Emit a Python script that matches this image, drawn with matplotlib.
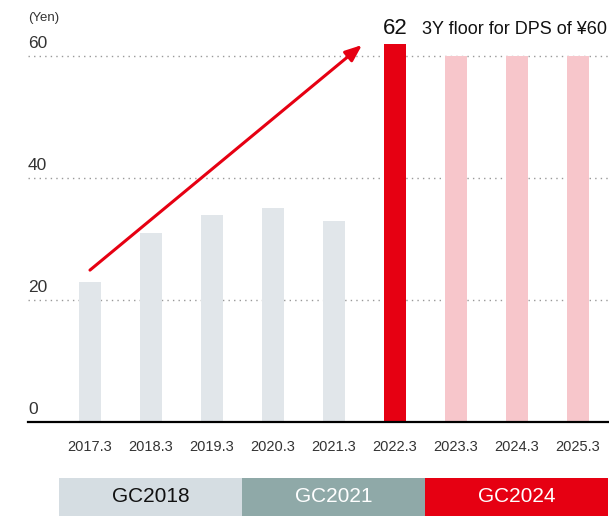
import matplotlib.pyplot as plt
from matplotlib.patches import Rectangle
import matplotlib.transforms as mtransforms

plt.rcParams['font.family'] = ['Liberation Sans', 'DejaVu Sans']

years = ['2017.3', '2018.3', '2019.3', '2020.3', '2021.3', '2022.3', '2023.3', '2024.3', '2025.3']
dps = [23, 31, 34, 35, 33, 62, 60, 60, 60]
bar_colors = ['#e1e6ea'] * 5 + ['#e60012'] + ['#f7c6cb'] * 3

plans = ['GC2018', 'GC2021', 'GC2024']
plan_start = [-0.5, 2.5, 5.5]
plan_end = [2.5, 5.5, 8.5]
plan_colors = ['#d5dde2', '#8fa9a8', '#e60012']
plan_text = ['#111111', 'white', 'white']

fig = plt.figure(figsize=(6.09, 5.16), dpi=100)
ax = fig.add_axes([28 / 609, 94 / 516, 581 / 609, 417 / 516])

x = list(range(len(years)))
ax.bar(x, dps, width=0.36, color=bar_colors, zorder=2)

ax.set_xlim(-1.016, 8.51)
ax.set_ylim(0, 417 / 6.1)

for v in [20, 40, 60]:
    ax.axhline(v, color='#999999', linestyle=(0, (1, 3)), linewidth=1.0, zorder=1)
for v in [0, 20, 40, 60]:
    ax.text(-1.016, v + 0.9, str(v), fontsize=12.5, color='#333333', ha='left', va='bottom')
ax.text(-1.016, 65.3, '(Yen)', fontsize=9.5, color='#333333', ha='left', va='bottom')

for s in ['left', 'right', 'top']:
    ax.spines[s].set_visible(False)
ax.spines['bottom'].set_linewidth(1.6)
ax.set_yticks([])
ax.set_xticks(x)
ax.set_xticklabels(years, fontsize=10.5, color='#333333')
ax.tick_params(axis='x', length=0, pad=13)

# growth arrow
ax.annotate('', xy=(4.46, 61.8), xytext=(0, 24.9),
            arrowprops=dict(arrowstyle='-|>,head_length=1.0,head_width=0.4',
                            color='#e60012', lw=2.2, shrinkA=0, shrinkB=0))

ax.text(5, 62.8, str(dps[5]), fontsize=16, ha='center', va='bottom', color='#111111')
ax.text(5.45, 62.9, '3Y floor for DPS of ¥60', fontsize=13, ha='left', va='bottom', color='#111111')

# plan bands
trans = mtransforms.blended_transform_factory(ax.transData, fig.transFigure)
for name, x0, x1, c, tc in zip(plans, plan_start, plan_end, plan_colors, plan_text):
    ax.add_patch(Rectangle((x0, 0), x1 - x0, 38 / 516, transform=trans,
                           facecolor=c, edgecolor='none', clip_on=False))
    ax.text((x0 + x1) / 2, 19 / 516, name, transform=trans, ha='center', va='center',
            fontsize=15, color=tc)

fig.savefig('out.png', dpi=100)
